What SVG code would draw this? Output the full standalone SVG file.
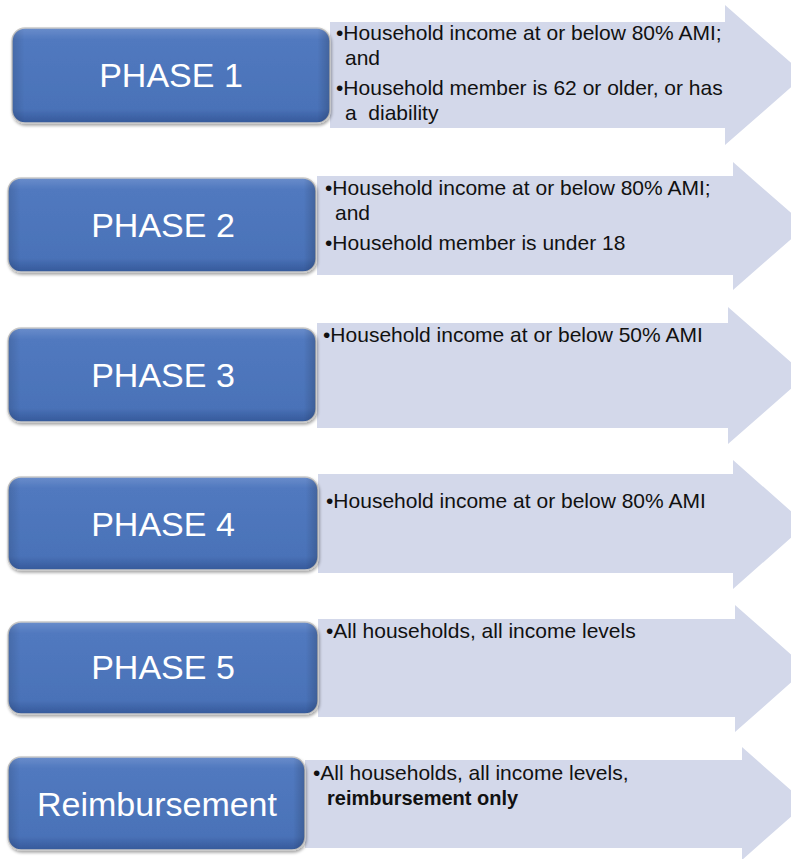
<svg xmlns="http://www.w3.org/2000/svg" width="791" height="859" viewBox="0 0 791 859">
<defs>
<linearGradient id="boxGrad" x1="0" y1="0" x2="0" y2="1">
<stop offset="0" stop-color="#6a8dcb"/>
<stop offset="0.12" stop-color="#5179bf"/>
<stop offset="0.85" stop-color="#4a72b8"/>
<stop offset="1" stop-color="#35599a"/>
</linearGradient>
<linearGradient id="sideGrad" x1="0" y1="0" x2="1" y2="0">
<stop offset="0" stop-color="#000" stop-opacity="0.12"/>
<stop offset="0.04" stop-color="#000" stop-opacity="0"/>
<stop offset="0.96" stop-color="#000" stop-opacity="0"/>
<stop offset="1" stop-color="#000" stop-opacity="0.18"/>
</linearGradient>
<filter id="shadow" x="-5%" y="-10%" width="110%" height="125%">
<feDropShadow dx="1" dy="2" stdDeviation="1.5" flood-color="#000" flood-opacity="0.35"/>
</filter>
</defs>
<style>
.arrow{fill:#d3d8ea;}
.box{fill:url(#boxGrad);stroke:#c9c9c9;stroke-width:1.5;filter:url(#shadow);}
.side{fill:url(#sideGrad);}
.title{font-family:"Liberation Sans",Arial,sans-serif;font-size:34px;fill:#ffffff;text-anchor:middle;}
.body{font-family:"Liberation Sans",Arial,sans-serif;font-size:21px;fill:#111111;}
.bold{font-weight:bold;font-size:20px;}
</style>
<g id="connectors">
<polygon class="arrow" points="330,22 725,22 725,5 805,75 725,145 725,128 330,128"/>
<polygon class="arrow" points="317,176 733,176 733,162 806,226 733,290 733,275 317,275"/>
<polygon class="arrow" points="317,323 728,323 728,307 806,375.5 728,444 728,428 317,428"/>
<polygon class="arrow" points="318,474 733,474 733,460 806,524.5 733,589 733,573 318,573"/>
<polygon class="arrow" points="318,619 735,619 735,605 807,668.5 735,732 735,717 318,717"/>
<polygon class="arrow" points="305,760 742,760 742,747 806,803.5 742,860 742,848 305,848"/>
</g>
<g id="phase1">
<rect class="box" x="12" y="28" width="318" height="95" rx="13"/>
<rect class="side" x="12" y="28" width="318" height="95" rx="13"/>
<text class="title" x="171" y="87">PHASE 1</text>
<text class="body" x="336" y="40">•Household income at or below 80% AMI;</text>
<text class="body" x="345" y="65">and</text>
<text class="body" x="336" y="95">•Household member is 62 or older, or has</text>
<text class="body" x="345" y="120">a&#160; diability</text>
</g>
<g id="phase2">
<rect class="box" x="8" y="178" width="308" height="94" rx="13"/>
<rect class="side" x="8" y="178" width="308" height="94" rx="13"/>
<text class="title" x="163" y="237">PHASE 2</text>
<text class="body" x="325" y="195">•Household income at or below 80% AMI;</text>
<text class="body" x="335" y="220">and</text>
<text class="body" x="325" y="250">•Household member is under 18</text>
</g>
<g id="phase3">
<rect class="box" x="8" y="328" width="308" height="94" rx="13"/>
<rect class="side" x="8" y="328" width="308" height="94" rx="13"/>
<text class="title" x="163" y="387">PHASE 3</text>
<text class="body" x="323" y="342">•Household income at or below 50% AMI</text>
</g>
<g id="phase4">
<rect class="box" x="8" y="477" width="310" height="93" rx="13"/>
<rect class="side" x="8" y="477" width="310" height="93" rx="13"/>
<text class="title" x="163" y="536">PHASE 4</text>
<text class="body" x="326" y="508">•Household income at or below 80% AMI</text>
</g>
<g id="phase5">
<rect class="box" x="8" y="622" width="310" height="92" rx="13"/>
<rect class="side" x="8" y="622" width="310" height="92" rx="13"/>
<text class="title" x="163" y="679">PHASE 5</text>
<text class="body" x="326" y="638">•All households, all income levels</text>
</g>
<g id="reimbursement">
<rect class="box" x="8" y="757" width="297" height="93" rx="13"/>
<rect class="side" x="8" y="757" width="297" height="93" rx="13"/>
<text class="title" x="157" y="816">Reimbursement</text>
<text class="body" x="313" y="780">•All households, all income levels,</text>
<text class="body bold" x="327" y="805">reimbursement only</text>
</g>
</svg>
